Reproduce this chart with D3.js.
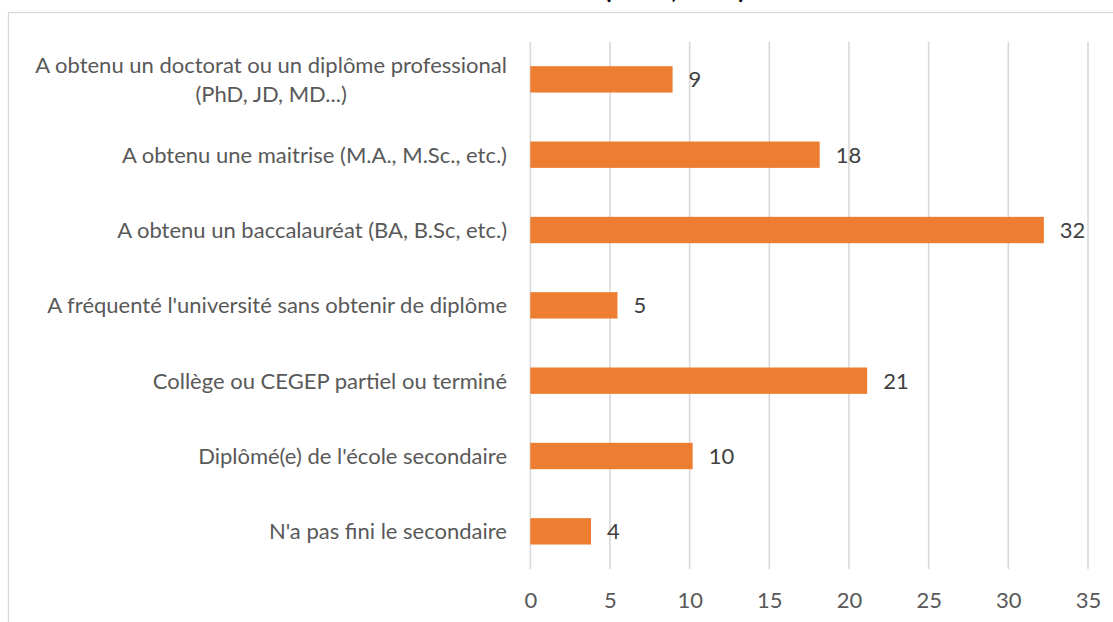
<!DOCTYPE html>
<html>
<head>
<meta charset="utf-8">
<script src="https://cdn.jsdelivr.net/npm/d3@7"></script>
<style>
  html, body { margin: 0; padding: 0; background: #fff; }
  #chart { width: 1113px; height: 622px; overflow: hidden; }
  text { font-family: Lato, "Open Sans", sans-serif; }
</style>
</head>
<body>
<div id="chart"></div>
<script>
// Data (percent, labels are rounded)
const categories = [
    "A obtenu un doctorat ou un diplôme professional|(PhD, JD, MD...)",
    "A obtenu une maitrise (M.A., M.Sc., etc.)",
    "A obtenu un baccalauréat (BA, B.Sc, etc.)",
    "A fréquenté l'université sans obtenir de diplôme",
    "Collège ou CEGEP partiel ou terminé",
    "Diplômé(e) de l'école secondaire",
    "N'a pas fini le secondaire"
];
const values = [8.93, 18.16, 32.23, 5.47, 21.14, 10.19, 3.81];
const tickValues = [0, 5, 10, 15, 20, 25, 30, 35];
const titleText = "Plus haut niveau de scolarité atteint (en %, tous)";

function renderBarChart(containerSelector) {
    const container = d3.select(containerSelector);
    const width = 1113;
    const height = 622;

    const svg = container.append("svg")
        .attr("width", width)
        .attr("height", height);

    // chart area border (cut by the picture on right and bottom)
    svg.append("rect")
        .attr("x", 8.5).attr("y", 12.5)
        .attr("width", 1300).attr("height", 800)
        .attr("fill", "none")
        .attr("stroke", "#D9D9D9")
        .attr("stroke-width", 1.3);

    // title, cut by the top of the picture: only descenders show
    svg.append("text")
        .attr("x", 450).attr("y", -2)
        .attr("text-anchor", "middle")
        .style("font-size", "28px")
        .style("font-weight", "bold")
        .style("fill", "#000")
        .text(titleText);

    const x = d3.scaleLinear().domain([0, 35]).range([530.3, 1088]);
    const y = d3.scaleBand()
        .domain(categories)
        .range([41.7, 569])
        .paddingInner(0.65)
        .paddingOuter(0.325);

    // vertical gridlines
    svg.append("g").selectAll("line")
        .data(tickValues)
        .join("line")
        .attr("x1", d => x(d)).attr("x2", d => x(d))
        .attr("y1", 41.7).attr("y2", 569)
        .attr("stroke", "#D9D9D9")
        .attr("stroke-width", 1.6);

    // x axis labels
    const xAxis = d3.axisBottom(x).tickValues(tickValues).tickSize(0).tickPadding(0);
    const gx = svg.append("g")
        .attr("transform", "translate(0,592)")
        .call(xAxis);
    gx.select(".domain").remove();
    gx.selectAll("text")
        .attr("dy", "0.71em")
        .style("font-size", "22px")
        .style("font-family", "Lato, 'Open Sans', sans-serif")
        .style("fill", "#595959");

    // bars
    svg.append("g").selectAll("rect")
        .data(values)
        .join("rect")
        .attr("x", x(0))
        .attr("y", (d, i) => y(categories[i]))
        .attr("width", d => x(d) - x(0))
        .attr("height", y.bandwidth())
        .attr("fill", "#ED7D31");

    // data labels
    const fmt = d3.format(".0f");
    svg.append("g").selectAll("text")
        .data(values)
        .join("text")
        .attr("x", d => x(d) + 16)
        .attr("y", (d, i) => y(categories[i]) + y.bandwidth() / 2)
        .attr("dy", "0.36em")
        .style("font-size", "22px")
        .style("fill", "#404040")
        .text(d => fmt(d));

    // category labels (right aligned, wrapped lines centred on each other)
    const labelRight = 507;
    categories.forEach(c => {
        const lines = c.split("|");
        const cy = y(c) + y.bandwidth() / 2;
        const lh = 29;
        const t0 = svg.append("text")
            .attr("x", labelRight)
            .attr("y", cy - (lines.length - 1) * lh / 2)
            .attr("dy", "0.36em")
            .attr("text-anchor", "end")
            .style("font-size", "22px")
            .style("fill", "#595959")
            .text(lines[0]);
        const w0 = t0.node().getComputedTextLength();
        lines.slice(1).forEach((ln, k) => {
            svg.append("text")
                .attr("x", labelRight - w0 / 2)
                .attr("y", cy - (lines.length - 1) * lh / 2 + (k + 1) * lh)
                .attr("dy", "0.36em")
                .attr("text-anchor", "middle")
                .style("font-size", "22px")
                .style("fill", "#595959")
                .text(ln);
        });
    });
}

renderBarChart("#chart");
</script>
</body>
</html>
